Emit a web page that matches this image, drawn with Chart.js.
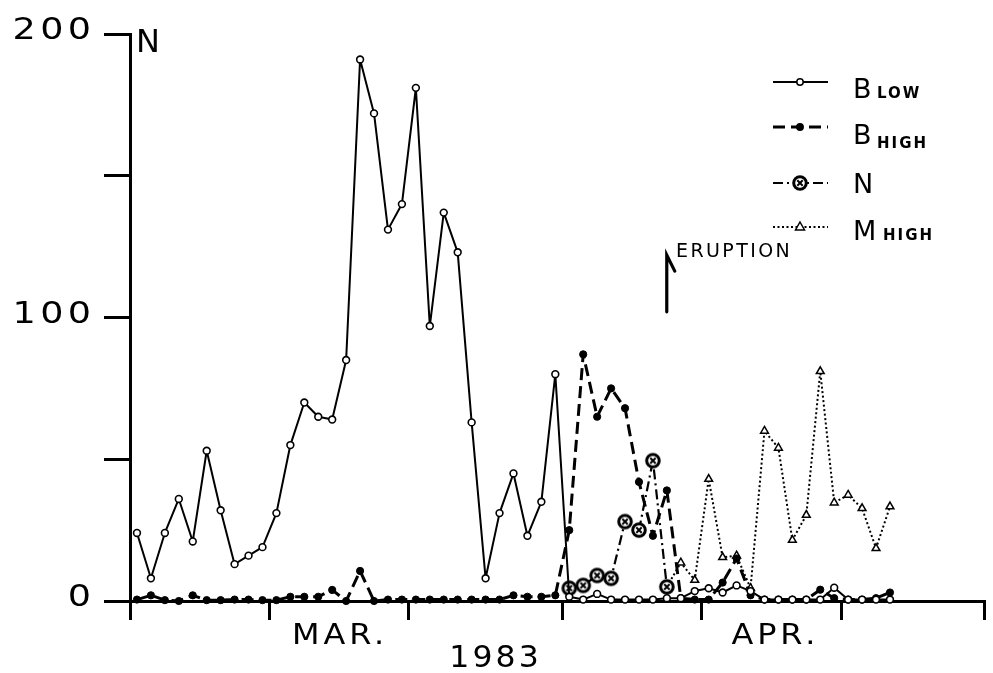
<!DOCTYPE html>
<html>
<head>
<meta charset="utf-8">
<script src="https://cdn.jsdelivr.net/npm/chart.js@4/dist/chart.umd.min.js"></script>
<style>
html,body{margin:0;padding:0;background:#fff;}
#wrap{width:993px;height:673px;position:relative;}
canvas{display:block;}
</style>
</head>
<body>
<div id="wrap"><canvas id="c" width="993" height="673"></canvas></div>
<script>
// ---- data (day 1 = Mar 1, day 32 = Apr 1) ----
const days = [1,2,3,4,5,6,7,8,9,10,11,12,13,14,15,16,17,18,19,20,21,22,23,24,25,26,27,28,29,30,31,
              32,33,34,35,36,37,38,39,40,41,42,43,44,45,46,47,48,49,50,51,52,53,54,55];
const bLow  = [24,8,24,36,21,53,32,13,16,19,31,55,70,65,64,85,191,172,131,140,181,97,137,123,63,8,31,45,23,35,80,
               1.5,0.5,2.5,0.5,0.5,0.5,0.5,1,1,3.5,4.5,3,5.5,3.5,0.5,0.5,0.5,0.5,0.5,4.7,0.5,0.5,0.5,0.5];
const bHigh = [0.5,2,0.3,0,2,0.3,0.3,0.5,0.5,0.3,0.3,1.5,1.5,1.5,3.9,0,10.6,0,0.5,0.5,0.5,0.5,0.5,0.5,0.5,0.5,0.5,2,1.5,1.5,2,
               25,87,65,75,68,42,23,39,1,0.5,0.5,6.5,15,2,0.5,0.5,0.5,0.5,4,1,0.5,0.5,1,3];
const nVals = [null,null,null,null,null,null,null,null,null,null,null,null,null,null,null,null,null,null,null,null,
               null,null,null,null,null,null,null,null,null,null,null,
               4.5,5.5,9,8,28,25,49.5,5,null,null,null,null,null,null,null,null,null,null,null,null,null,null,null,null];
const mHigh = [null,null,null,null,null,null,null,null,null,null,null,null,null,null,null,null,null,null,null,null,
               null,null,null,null,null,null,null,null,null,null,null,
               null,null,null,null,null,null,null,5,13.5,7.4,43,15.4,16,4.5,60,54,21.5,30.3,81,34.7,37.4,32.7,18.6,33.3];
const seriesNames = [['B','LOW'],['B','HIGH'],['N',''],['M','HIGH']];
const yTickValues = [0,50,100,150,200];
const yLabelValues = [0,100,200];
const xTickDays = [0.5,10.5,20.5,31.5,41.5,51.5,61.8];
const monthLabels = ['MAR.','APR.'];
const monthSpans = [[0.5,31.5],[31.5,61.5]];
const yearLabel = '1983';
const yAxisTitle = 'N';
const eruptionLabel = 'ERUPTION';
const eruptionDay = 38.85;

// ---- marker for N ----
const nImg = document.createElement('canvas');
nImg.width = 18; nImg.height = 18;
(function(){
  const g = nImg.getContext('2d');
  g.fillStyle = '#fff';
  g.beginPath(); g.arc(9,9,6.3,0,2*Math.PI); g.fill();
  g.lineWidth = 3; g.strokeStyle = '#000'; g.stroke();
  g.lineWidth = 2;
  g.beginPath(); g.moveTo(6.3,6.3); g.lineTo(11.7,11.7); g.moveTo(11.7,6.3); g.lineTo(6.3,11.7); g.stroke();
})();

function pts(arr){ return days.map((d,i)=>({x:d,y:arr[i]})); }

function txt(ctx, s, x, y, size, align, sx, ls, weight){
  ctx.save();
  ctx.font = (weight||'normal') + ' ' + size + 'px "DejaVu Sans"';
  ctx.letterSpacing = ls + 'px';
  ctx.textBaseline = 'alphabetic';
  ctx.textAlign = 'left';
  ctx.fillStyle = '#000';
  const w = (ctx.measureText(s).width - ls) * sx;
  const x0 = align === 'center' ? x - w/2 : (align === 'right' ? x - w : x);
  ctx.translate(x0, y);
  ctx.scale(sx, 1);
  ctx.fillText(s, 0, 0);
  ctx.restore();
  return w;
}

const decor = {
  id: 'decor',
  beforeDraw(chart){
    const c = chart.ctx;
    c.save(); c.fillStyle = '#fff'; c.fillRect(0,0,chart.width,chart.height); c.restore();
  },
  afterDraw(chart){
    const c = chart.ctx;
    const xs = chart.scales.x, ys = chart.scales.y;
    // y tick labels
    yLabelValues.forEach(v=>{
      txt(c, String(v), 91, ys.getPixelForValue(v) + 5, 30, 'right', 1.22, 3.5);
    });
    // y title
    txt(c, yAxisTitle, 136, 52, 32, 'left', 1.0, 0);
    // month labels
    const monthShift = [-8, 2];
    monthLabels.forEach((m,i)=>{
      const px = (xs.getPixelForValue(monthSpans[i][0]) + xs.getPixelForValue(monthSpans[i][1]))/2 + monthShift[i];
      txt(c, m, px, 644, 29, 'center', 1.1, 3.5);
    });
    // year
    txt(c, yearLabel, 494, 667, 30, 'center', 1.05, 3);
    // eruption arrow
    const ex = xs.getPixelForValue(eruptionDay) + 2;
    const yb = ys.getPixelForValue(102), yt = ys.getPixelForValue(122);
    c.save();
    c.strokeStyle = '#000'; c.lineWidth = 3.2; c.lineCap = 'round';
    c.beginPath(); c.moveTo(ex, yb); c.lineTo(ex, yt); c.lineTo(ex + 8, yt + 16); c.stroke();
    c.restore();
    txt(c, eruptionLabel, 676, 257, 19, 'left', 1.0, 2.4);
    // legend
    const ds = chart.data.datasets;
    const lineY = [82, 127, 183, 227];
    const mainBase = [98, 144, 193, 240];
    const subBase = [98, 148, 0, 240];
    const subX = [877, 877, 0, 883];
    ds.forEach((d,i)=>{
      c.save();
      c.strokeStyle = '#000';
      c.lineWidth = d.borderWidth;
      c.setLineDash(d.borderDash || []);
      c.beginPath(); c.moveTo(773, lineY[i]); c.lineTo(828, lineY[i]); c.stroke();
      c.setLineDash([]);
      const mx = 800, my = lineY[i];
      if (i === 2) {
        c.drawImage(nImg, mx - nImg.width/2, my - nImg.height/2);
      } else if (i === 3) {
        c.fillStyle = '#fff'; c.lineWidth = 1.5;
        c.beginPath(); c.moveTo(mx, my-5); c.lineTo(mx+4.5, my+3); c.lineTo(mx-4.5, my+3); c.closePath();
        c.fill(); c.stroke();
      } else {
        c.fillStyle = i === 0 ? '#fff' : '#000'; c.lineWidth = 1.5;
        c.beginPath(); c.arc(mx, my, 3.2, 0, 2*Math.PI); c.fill(); c.stroke();
      }
      c.restore();
      txt(c, seriesNames[i][0], 853, mainBase[i], 27, 'left', 1.0, 0);
      if (seriesNames[i][1]) txt(c, seriesNames[i][1], subX[i], subBase[i], 15, 'left', 1.0, 2, 'bold');
    });
  }
};

new Chart(document.getElementById('c'), {
  type: 'line',
  data: {
    datasets: [
      { label:'B LOW', data: pts(bLow), borderColor:'#000', borderWidth:2, tension:0, borderJoinStyle:'round',
        pointRadius:3.4, pointBackgroundColor:'#fff', pointBorderColor:'#000', pointBorderWidth:1.6, clip:false },
      { label:'B HIGH', data: pts(bHigh), borderColor:'#000', borderWidth:3, borderDash:[12,6], tension:0, borderJoinStyle:'round',
        pointRadius:3.6, pointBackgroundColor:'#000', pointBorderColor:'#000', pointBorderWidth:1, clip:false },
      { label:'N', data: pts(nVals), borderColor:'#000', borderWidth:2.2, borderDash:[10,4,2,4], tension:0, borderJoinStyle:'round',
        pointStyle: nImg, pointRadius:6, clip:false },
      { label:'M HIGH', data: pts(mHigh), borderColor:'#000', borderWidth:2, borderDash:[2,2.5], tension:0, borderJoinStyle:'round',
        pointStyle:'triangle', pointRadius:4.5, pointBackgroundColor:'#fff', pointBorderColor:'#000', pointBorderWidth:1.5, clip:false }
    ]
  },
  options: {
    responsive:false, animation:false, devicePixelRatio:1,
    layout:{ padding:{ left:0, right:3, top:34, bottom:0 } },
    plugins:{ legend:{ display:false }, tooltip:{ enabled:false } },
    scales:{
      x:{ type:'linear', min:0.5, max:61.8,
          afterBuildTicks: s => { s.ticks = xTickDays.map(v=>({value:v})); },
          ticks:{ display:false },
          grid:{ drawOnChartArea:false, drawTicks:true, tickLength:19, lineWidth:3, color:'#000' },
          border:{ display:true, width:3, color:'#000' },
          afterFit: s => { s.height = 72; } },
      y:{ min:0, max:200,
          afterBuildTicks: s => { s.ticks = yTickValues.map(v=>({value:v})); },
          ticks:{ display:false },
          grid:{ drawOnChartArea:false, drawTicks:true, tickLength:26, lineWidth:3, color:'#000' },
          border:{ display:true, width:3, color:'#000' },
          afterFit: s => { s.width = 130; } }
    }
  },
  plugins:[decor]
});
</script>
</body>
</html>
